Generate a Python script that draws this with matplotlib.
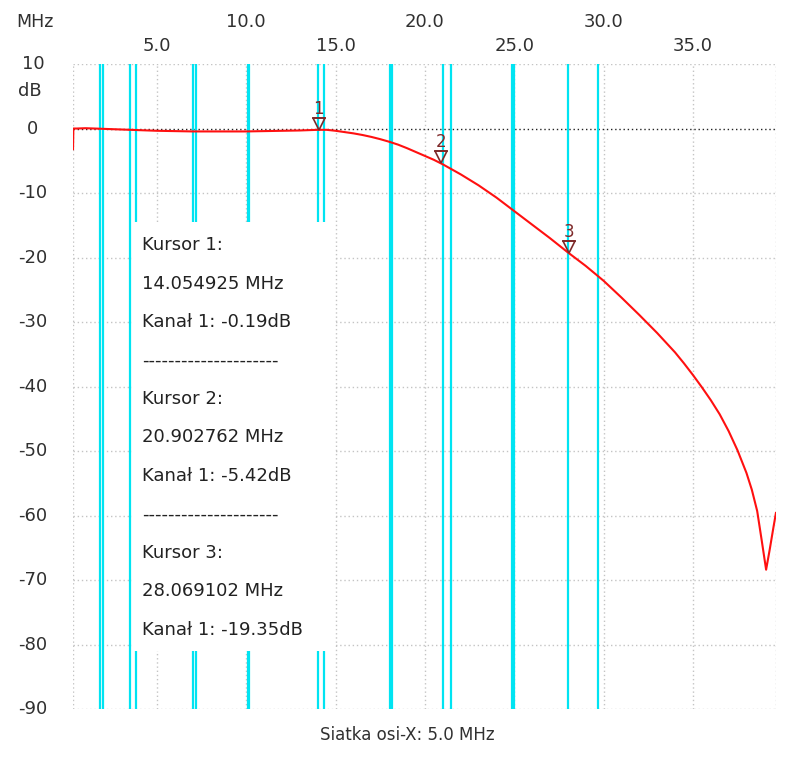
import matplotlib.pyplot as plt
from matplotlib.transforms import offset_copy, blended_transform_factory
from matplotlib.patches import Rectangle

# measured response (MHz, dB)
freq = [0.30, 0.32, 0.5, 1.0, 1.5, 2.0, 3.0, 4.0, 5.0, 6.0, 7.0, 8.0, 9.0, 10.0,
        11.0, 12.0, 13.0, 14.0, 14.5, 15.0, 15.5, 16.0, 16.5, 17.0, 17.5, 18.0,
        18.5, 19.0, 19.5, 20.0, 20.5, 21.0, 22.0, 23.0, 24.0, 25.0, 26.0, 27.0,
        28.0, 29.0, 30.0, 31.0, 32.0, 33.0, 34.0, 34.5, 35.0, 35.5, 36.0, 36.5,
        37.0, 37.5, 38.0, 38.3, 38.6, 38.85, 39.1, 39.3, 39.5, 39.65]
gain = [-3.2, 0.0, 0.0, 0.05, 0.0, -0.05, -0.15, -0.25, -0.35, -0.4, -0.45, -0.45,
        -0.45, -0.45, -0.4, -0.35, -0.3, -0.2, -0.2, -0.35, -0.55, -0.75, -1.0,
        -1.3, -1.65, -2.05, -2.5, -3.05, -3.65, -4.25, -4.85, -5.55, -7.1, -8.8,
        -10.7, -12.8, -14.9, -17.0, -19.2, -21.3, -23.6, -26.2, -28.9, -31.7,
        -34.7, -36.4, -38.2, -40.1, -42.1, -44.3, -46.9, -49.9, -53.4, -56.0,
        -59.3, -63.8, -68.4, -65.3, -62.0, -59.6]

# amateur band edges (cyan lines)
bands = [1.81, 2.0, 3.5, 3.8, 7.0, 7.2, 10.1, 10.15, 14.0, 14.35, 18.068, 18.168,
         21.0, 21.45, 24.89, 24.99, 28.0, 29.7]

cursor_f = [14.054925, 20.902762, 28.069102]
cursor_db = [-0.19, -5.42, -19.35]

xticks = [5, 10, 15, 20, 25, 30, 35]
yticks = [10, 0, -10, -20, -30, -40, -50, -60, -70, -80, -90]

xmin, xmax = 0.30, 39.65
ymin, ymax = -90, 10

fig = plt.figure(figsize=(7.86, 7.65), dpi=100)
ax = fig.add_axes([0.0929, 0.0732, 0.8943, 0.8431])
ax.set_xlim(xmin, xmax)
ax.set_ylim(ymin, ymax)
for s in ax.spines.values():
    s.set_visible(False)
ax.set_xticks([])
ax.set_yticks([])

dot = (0, (1, 2))
grid_c = "#c4c4c4"
for x in xticks + [xmin, xmax]:
    ax.axvline(x, color=grid_c, lw=1, ls=dot, zorder=1)
for y in yticks:
    if y == 0:
        ax.axhline(y, color="#222222", lw=1, ls=dot, zorder=1)
    else:
        ax.axhline(y, color=grid_c, lw=1, ls=dot, zorder=1)

for b in bands:
    ax.axvline(b, color="#00e4f2", lw=1.6, zorder=2)

# cursor info box
ax.add_patch(Rectangle((3.6, -81), 14.9 - 3.6, 66.5, facecolor="white",
                       edgecolor="none", zorder=3))
lines = ["Kursor 1:", "14.054925 MHz", "Kanał 1: -0.19dB", "-" * 21,
         "Kursor 2:", "20.902762 MHz", "Kanał 1: -5.42dB", "-" * 21,
         "Kursor 3:", "28.069102 MHz", "Kanał 1: -19.35dB"]
for i, t in enumerate(lines):
    ax.text(4.15, -18.1 - 5.96 * i, t, fontsize=13, color="#222222",
            va="center", ha="left", zorder=4)

ax.plot(freq, gain, color="#ff1010", lw=1.5, zorder=5)

# cursor markers
mc = "#7e2a2a"
for i, (f, d) in enumerate(zip(cursor_f, cursor_db)):
    tr = offset_copy(ax.transData, fig=fig, x=0, y=6, units="dots")
    ax.plot([f], [d], marker="v", ms=8.5, mfc="none", mec=mc, mew=1.2,
            transform=tr, zorder=6)
    tr2 = offset_copy(ax.transData, fig=fig, x=0, y=12, units="dots")
    ax.plot([f], [d], marker="_", ms=10, mec=mc, mew=1.3, transform=tr2, zorder=6)
    tr3 = offset_copy(ax.transData, fig=fig, x=0, y=21, units="dots")
    ax.text(f, d, str(i + 1), color=mc, fontsize=12, ha="center", va="center",
            transform=tr3, zorder=6)

# axis labels
lab_c = "#303030"
bt = blended_transform_factory(ax.transData, ax.transAxes)
for x in xticks:
    yy = 1.065 if x % 10 == 0 else 1.028
    ax.text(x, yy, "%.1f" % x, transform=bt, ha="center", va="center",
            fontsize=13, color=lab_c)
fig.text(35 / 786, 1 - 22 / 765, "MHz", ha="center", va="center",
         fontsize=12.5, color=lab_c)

bty = blended_transform_factory(ax.transAxes, ax.transData)
for y in yticks:
    ax.text(-0.057, y, str(y), transform=bty, ha="center", va="center",
            fontsize=13, color=lab_c)
fig.text(30 / 786, 1 - 91 / 765, "dB", ha="center", va="center",
         fontsize=13, color=lab_c)

fig.text(407 / 786, 1 - 735 / 765, "Siatka osi-X: 5.0 MHz", ha="center",
         va="center", fontsize=12, color=lab_c)

plt.savefig("out.png", dpi=100)
